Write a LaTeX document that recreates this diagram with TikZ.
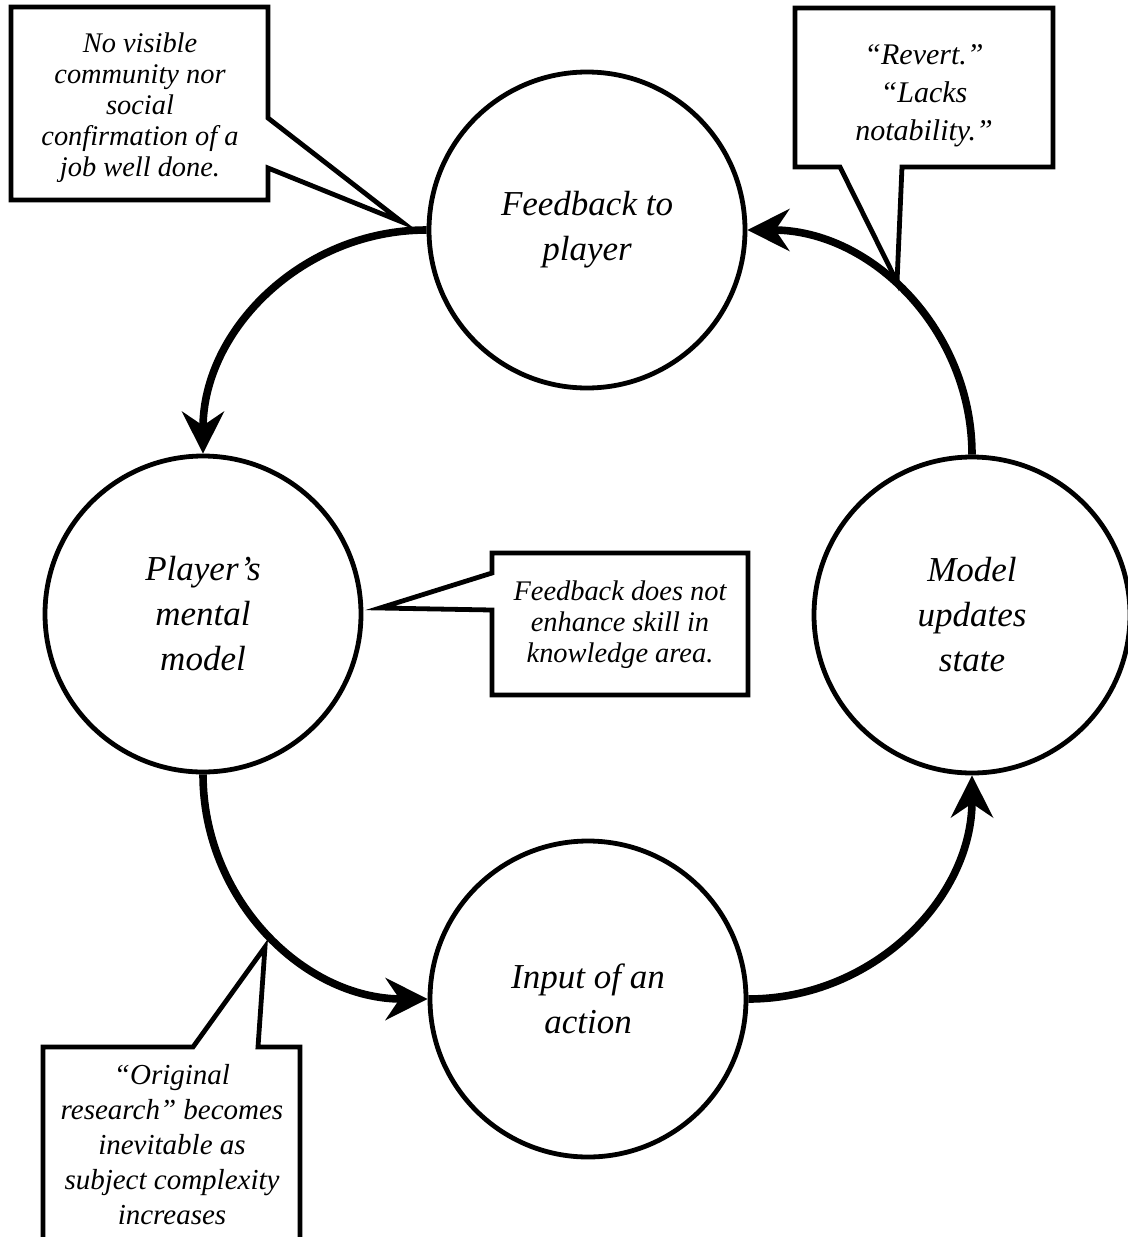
\documentclass[tikz,border=0pt]{standalone}
\usepackage{fontspec}
\setmainfont{Liberation Serif}
\usetikzlibrary{arrows.meta}

\begin{document}
\begin{tikzpicture}[x=0.5pt,y=-0.5pt,
stage/.style={circle, draw, line width=2.4pt, minimum size=158pt, inner sep=0pt,
    align=center, font=\fontsize{17.5}{22.5}\selectfont\itshape},
flow/.style={-{Stealth[length=21pt,width=21pt,inset=7pt]}, line width=3.8pt},
note/.style={align=center, font=\fontsize{14.2}{15.5}\selectfont\itshape},
bubble/.style={draw, fill=white, line width=2.4pt, line join=miter}]
\useasboundingbox (0,0) rectangle (1128,1237);

% the four stages of the loop
\node[stage] (feedback) at (587,230) {Feedback to\\player};
\node[stage] (mental) at (203,614) {Player's\\mental\\model};
\node[stage] (update) at (972,615) {Model\\updates\\state};
\node[stage] (input) at (588,999) {Input of an\\action};

\draw[flow] (feedback.west) to[out=180,in=90] (mental.north);
\draw[flow] (mental.south) to[out=-90,in=180] (input.west);
\draw[flow] (input.east) to[out=0,in=-90] (update.south);
\draw[flow] (update.north) to[out=90,in=0] (feedback.east);

% speech bubbles
\coordinate (tipA) at (402,222);
\coordinate (tipB) at (897,282);
\coordinate (tipC) at (380,608);
\coordinate (tipD) at (265,947);
\draw[bubble] (11,7) -- (268,7) -- (268,118) -- (tipA) -- (268,168) -- (268,200) -- (11,200) -- cycle;
\draw[bubble] (795,8) -- (1053,8) -- (1053,167) -- (902,167) -- (tipB) -- (840,167) -- (795,167) -- cycle;
\draw[bubble] (492,553) -- (748,553) -- (748,695) -- (492,695) -- (492,610) -- (tipC) -- (492,573) -- cycle;
\draw[bubble] (43,1260) -- (43,1047) -- (193,1047) -- (tipD) -- (258,1047) -- (300,1047) -- (300,1260);

\node[note] (social) at (140,108) {No visible\\community nor\\social\\confirmation of a\\job well done.};
\node[note, font=\fontsize{15}{19}\selectfont\itshape] (revert) at (924,96) {``Revert.''\\``Lacks\\notability.''};
\node[note] (skill) at (620,625) {Feedback does not\\enhance skill in\\knowledge area.};
\node[note, font=\fontsize{14.5}{17.5}\selectfont\itshape] (research) at (172,1145) {``Original\\research'' becomes\\inevitable as\\subject complexity\\increases};
\end{tikzpicture}
\end{document}
